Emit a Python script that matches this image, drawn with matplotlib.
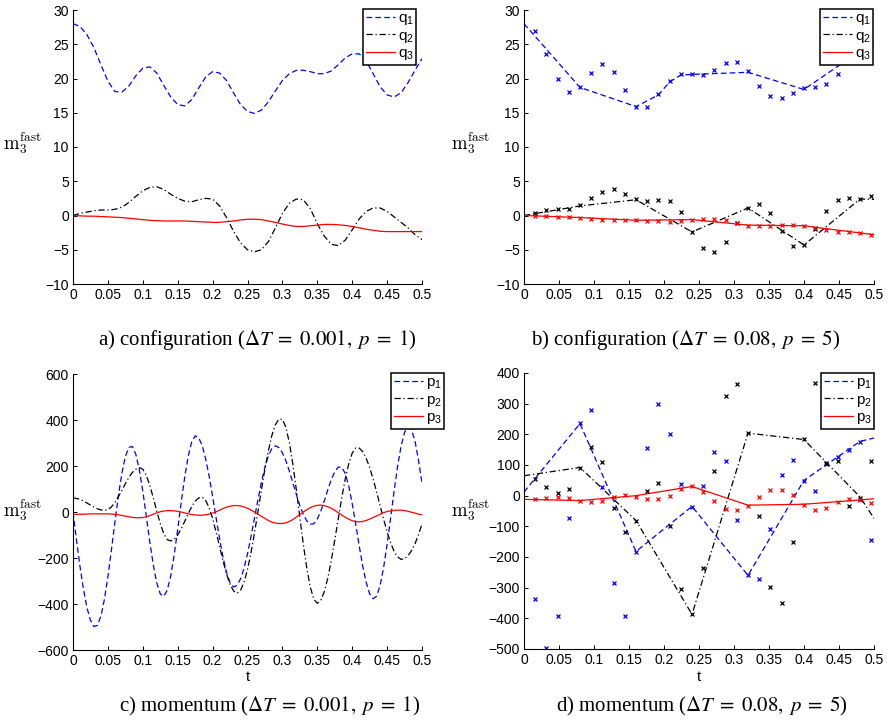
import numpy as np
import matplotlib
matplotlib.use('Agg')
import matplotlib.pyplot as plt
from matplotlib.font_manager import FontProperties

plt.rcParams['font.family'] = ['Liberation Sans', 'DejaVu Sans']
plt.rcParams['mathtext.fontset'] = 'custom'
plt.rcParams['mathtext.rm'] = 'Liberation Sans'
plt.rcParams['mathtext.it'] = 'Liberation Sans:italic'
plt.rcParams['axes.unicode_minus'] = True

# ---- panel a: configuration, fine solution (dT = 0.001) ----
t_a = np.linspace(0, 0.5, 51)
q1_a = [28, 27.6, 26.4, 24.5, 22.0, 19.6, 18.1, 18.0, 18.9, 20.4, 21.5,
        21.7, 20.8, 19.0, 17.3, 16.2, 16.0, 16.9, 18.6, 20.2, 21.0,
        20.8, 19.7, 17.9, 16.2, 15.2, 14.9, 15.4, 16.6, 18.2, 19.7,
        20.7, 21.2, 21.2, 21.0, 20.7, 20.7, 21.1, 22.0, 23.0, 23.6,
        23.6, 22.6, 20.7, 18.8, 17.6, 17.3, 17.9, 19.4, 21.2, 22.9]
q2_a = [0, 0.3, 0.5, 0.7, 0.8, 0.8, 0.9, 1.2, 1.9, 2.8, 3.6,
        4.1, 4.2, 3.8, 3.1, 2.5, 2.1, 2.0, 2.3, 2.5, 2.4,
        1.4, -0.3, -2.3, -4.0, -5.0, -5.3, -5.0, -3.8, -1.8, 0.3,
        1.8, 2.4, 2.3, 1.0, -1.2, -3.0, -4.2, -4.4, -3.6, -2.1,
        -0.5, 0.6, 1.1, 1.1, 0.6, -0.2, -1.0, -1.8, -2.8, -3.5]
q3_a = [0, -0.05, -0.1, -0.1, -0.15, -0.2, -0.25, -0.3, -0.4, -0.5, -0.6,
        -0.7, -0.75, -0.8, -0.8, -0.8, -0.8, -0.85, -0.9, -0.95, -1.0,
        -1.0, -0.9, -0.8, -0.65, -0.55, -0.55, -0.6, -0.8, -1.0, -1.25,
        -1.45, -1.6, -1.6, -1.5, -1.4, -1.3, -1.3, -1.35, -1.45, -1.6,
        -1.8, -2.0, -2.15, -2.3, -2.35, -2.35, -2.35, -2.35, -2.35, -2.35]

# ---- panel b: configuration, parareal (dT = 0.08, p = 5) ----
t_marks = np.arange(1, 32) * 0.016
t_coarse = [0, 0.08, 0.16, 0.24, 0.32, 0.40, 0.48, 0.5]
t_q1_line = [0, 0.08, 0.16, 0.192, 0.208, 0.224, 0.24, 0.32, 0.40, 0.48, 0.5]
q1_b_line = [28, 18.7, 15.9, 17.6, 19.5, 20.5, 20.6, 20.9, 18.4, 24.0, 24.5]
q2_b_line = [0, 1.4, 2.3, -2.4, 1.1, -4.3, 2.4, 2.35]
q3_b_line = [0, -0.3, -0.7, -0.6, -1.4, -1.5, -2.55, -2.8]
q1_b_marks = [26.9, 23.6, 19.9, 18.1, 18.75, 20.8, 22.1, 21.0, 18.3, 15.9,
              15.8, 17.7, 19.7, 20.6, 20.6, 20.5, 21.3, 22.3, 22.4, 21.1,
              18.9, 17.4, 17.15, 17.9, 18.6, 18.8, 19.2, 20.7, 23.8, 24.6,
              25.0]
q2_b_marks = [0.42, 0.8, 0.9, 1.0, 1.5, 2.55, 3.5, 3.85, 3.2, 2.4,
              2.1, 2.3, 2.1, 0.5, -2.4, -4.8, -5.4, -3.9, -1.1, 1.15,
              1.7, 0.3, -2.3, -4.5, -4.3, -2.0, 0.6, 2.2, 2.55, 2.45,
              2.9]
q3_b_marks = [-0.05, -0.1, -0.2, -0.2, -0.3, -0.5, -0.6, -0.65, -0.65, -0.7,
              -0.8, -0.8, -0.9, -0.75, -0.6, -0.5, -0.5, -0.65, -1.1, -1.5,
              -1.55, -1.5, -1.4, -1.4, -1.5, -1.8, -2.1, -2.35, -2.45, -2.6,
              -2.8]

# ---- panel c: momentum, fine solution (dT = 0.001) ----
t_c = np.linspace(0, 0.5, 101)
p1_c = [0, -122, -236, -336, -416, -471, -498, -493, -453, -380,
        -282, -166, -46, 70, 168, 241, 281, 285, 251, 184,
        91, -18, -129, -229, -308, -356, -367, -340, -278, -186,
        -76, 40, 150, 242, 304, 331, 323, 290, 232, 157,
        68, -25, -116, -198, -263, -307, -326, -319, -291, -245,
        -182, -107, -27, 54, 130, 195, 245, 277, 288, 280,
        258, 223, 178, 127, 76, 28, -11, -39, -53, -51,
        -31, 3, 48, 96, 141, 175, 195, 195, 168, 114,
        37, -52, -146, -234, -306, -356, -377, -366, -319, -242,
        -141, -27, 90, 198, 286, 346, 371, 359, 308, 225,
        125]
p2_c = [61, 59, 55, 48, 39, 30, 22, 14, 9, 7,
        10, 22, 41, 66, 94, 123, 150, 172, 186, 193,
        186, 160, 116, 62, 4, -50, -94, -120, -126, -119,
        -100, -73, -41, -8, 23, 47, 61, 65, 51, 19,
        -28, -87, -150, -213, -270, -315, -343, -353, -341, -306,
        -250, -177, -91, 2, 97, 188, 268, 334, 380, 404,
        403, 368, 301, 207, 96, -24, -141, -245, -327, -379,
        -397, -384, -347, -288, -211, -123, -30, 61, 143, 209,
        256, 279, 278, 263, 234, 193, 143, 87, 27, -31,
        -86, -133, -171, -195, -206, -203, -190, -168, -138, -98,
        -52]
p3_c = [-10, -10, -10, -9, -9, -8, -8, -8, -8, -8,
        -8, -9, -10, -12, -15, -18, -21, -23, -25, -25,
        -24, -21, -16, -10, -4, 1, 4, 6, 6, 5,
        3, 0, -4, -8, -11, -13, -14, -14, -12, -9,
        -5, 1, 8, 15, 21, 25, 28, 28, 26, 22,
        16, 9, 0, -9, -19, -28, -37, -44, -48, -50,
        -50, -47, -41, -33, -22, -11, 0, 10, 19, 25,
        29, 30, 28, 23, 16, 7, -3, -13, -23, -31,
        -38, -42, -43, -41, -37, -31, -24, -17, -10, -3,
        2, 5, 7, 8, 8, 6, 3, -1, -5, -9,
        -12]

# ---- panel d: momentum, parareal (dT = 0.08, p = 5) ----
p1_d_line = [12, 235, -182, -35, -260, 50, 177, 188]
p2_d_line = [65, 92, -81, -387, 204, 183, -4, -74]
p3_d_line = [-12, -16, 0, 30, -31, -28, -14, -10]
p1_d_marks = [-336, -497, -391, -74, 236, 279, 29, -284, -391, -183,
              154, 300, 201, 39, -36, 31, 141, 113, -79, -260,
              -273, -110, 68, 116, 49, 14, 102, 125, 150, 176,
              -145]
p2_d_marks = [53, 27, 8, 23, 91, 160, 109, -41, -120, -81,
              15, 41, -98, -304, -387, -237, 81, 324, 363, 205,
              -65, -298, -351, -152, 184, 367, 105, 113, -33, -6,
              113]
p3_d_marks = [-10, -8, -4, -9, -17, -22, -17, -3, 3, -3,
              -10, -12, 0, 23, 30, 13, -16, -42, -47, -33,
              -4, 17, 20, 1, -30, -47, -39, -22, -10, -13,
              -25]

x_ticks = [0, 0.05, 0.1, 0.15, 0.2, 0.25, 0.3, 0.35, 0.4, 0.45, 0.5]
x_tick_labels = ['0', '0.05', '0.1', '0.15', '0.2', '0.25', '0.3', '0.35',
                 '0.4', '0.45', '0.5']
y_ticks_q = [-10, -5, 0, 5, 10, 15, 20, 25, 30]
y_ticks_pc = [-600, -400, -200, 0, 200, 400, 600]
y_ticks_pd = [-500, -400, -300, -200, -100, 0, 100, 200, 300, 400]

captions = [r'a) configuration ($\mathit{\Delta T}\;=\;0.001,\;p\;=\;1$)',
            r'b) configuration ($\mathit{\Delta T}\;=\;0.08,\;p\;=\;5$)',
            r'c) momentum ($\mathit{\Delta T}\;=\;0.001,\;p\;=\;1$)',
            r'd) momentum ($\mathit{\Delta T}\;=\;0.08,\;p\;=\;5$)']

W, H = 890, 721
BLUE, BLACK, RED = (0, 0, 1), (0, 0, 0), (1, 0, 0)


def box(left, top, right, bottom):
    """pixel box -> figure fraction rect"""
    return [left / W, 1 - bottom / H, (right - left) / W, (bottom - top) / H]


def style_axes(ax, yticks):
    """MATLAB-like axes: box off, ticks inside"""
    for side in ('top', 'right'):
        ax.spines[side].set_visible(False)
    for side in ('left', 'bottom'):
        ax.spines[side].set_linewidth(0.8)
    ax.tick_params(direction='in', length=3, width=0.7, labelsize=10,
                   pad=3, top=False, right=False)
    ax.set_xlim(0, 0.5)
    ax.set_xticks(x_ticks)
    ax.set_xticklabels(x_tick_labels)
    ax.set_ylim(yticks[0], yticks[-1])
    ax.set_yticks(yticks)


def add_legend(fig, ax, right, top):
    font = FontProperties(family='Liberation Sans', size=11,
                          math_fontfamily='custom')
    leg = ax.legend(loc='upper right', bbox_to_anchor=(right / W, 1 - top / H),
                    bbox_transform=fig.transFigure, borderaxespad=0,
                    fancybox=False, framealpha=1, handlelength=1.9,
                    handletextpad=0.2, labelspacing=0.1, borderpad=0.15,
                    prop=font)
    leg.get_frame().set_edgecolor('black')
    leg.get_frame().set_linewidth(1.1)


def draw_three(ax, t, a, b, c, labels, marks=None):
    lw = 0.9
    ax.plot(t[0], a, color=BLUE, lw=lw, dashes=(4.5, 2.6), label=labels[0])
    ax.plot(t[1], b, color=BLACK, lw=lw, dashes=(5, 2.2, 1, 2.2),
            label=labels[1])
    ax.plot(t[2], c, '-', color=RED, lw=lw, label=labels[2])
    if marks is not None:
        for vals, col in zip(marks, (BLUE, BLACK, RED)):
            ax.plot(t_marks, vals, 'x', color=col, ms=3, mew=0.9,
                    linestyle='none')


def main():
    fig = plt.figure(figsize=(W / 100, H / 100), dpi=100)

    ax_a = fig.add_axes(box(73, 10, 422, 284))
    ax_b = fig.add_axes(box(524, 10, 874, 284))
    ax_c = fig.add_axes(box(73, 374, 422, 650))
    ax_d = fig.add_axes(box(524, 373, 874, 649))

    q_labels = ['q$_1$', 'q$_2$', 'q$_3$']
    p_labels = ['p$_1$', 'p$_2$', 'p$_3$']

    draw_three(ax_a, (t_a, t_a, t_a), q1_a, q2_a, q3_a, q_labels)
    draw_three(ax_b, (t_q1_line, t_coarse, t_coarse), q1_b_line, q2_b_line,
               q3_b_line, q_labels, (q1_b_marks, q2_b_marks, q3_b_marks))
    draw_three(ax_c, (t_c, t_c, t_c), p1_c, p2_c, p3_c, p_labels)
    draw_three(ax_d, (t_coarse, t_coarse, t_coarse), p1_d_line, p2_d_line,
               p3_d_line, p_labels, (p1_d_marks, p2_d_marks, p3_d_marks))

    style_axes(ax_a, y_ticks_q)
    style_axes(ax_b, y_ticks_q)
    style_axes(ax_c, y_ticks_pc)
    style_axes(ax_d, y_ticks_pd)

    add_legend(fig, ax_a, 416, 9)
    add_legend(fig, ax_b, 873, 9)
    add_legend(fig, ax_c, 444, 373)
    add_legend(fig, ax_d, 874, 373)

    # y labels
    for x, y in ((22, 143), (470, 143), (22, 510), (470, 510)):
        fig.text(x / W, 1 - y / H, r'$\mathrm{m}_3^{\mathrm{fast}}$',
                 math_fontfamily='cm', fontsize=13.5, ha='center',
                 va='center')

    # x labels
    for x in (248, 699):
        fig.text(x / W, 1 - 677 / H, 't', fontsize=10.5, ha='center',
                 va='center')

    # captions
    for (x, y), text in zip(((257, 340), (686, 340), (270, 706), (702, 706)),
                            captions):
        fig.text(x / W, 1 - y / H, text, family='Liberation Serif',
                 math_fontfamily='stix', fontsize=15, ha='center', va='center')

    fig.savefig('out.png', dpi=100)


if __name__ == '__main__':
    main()
